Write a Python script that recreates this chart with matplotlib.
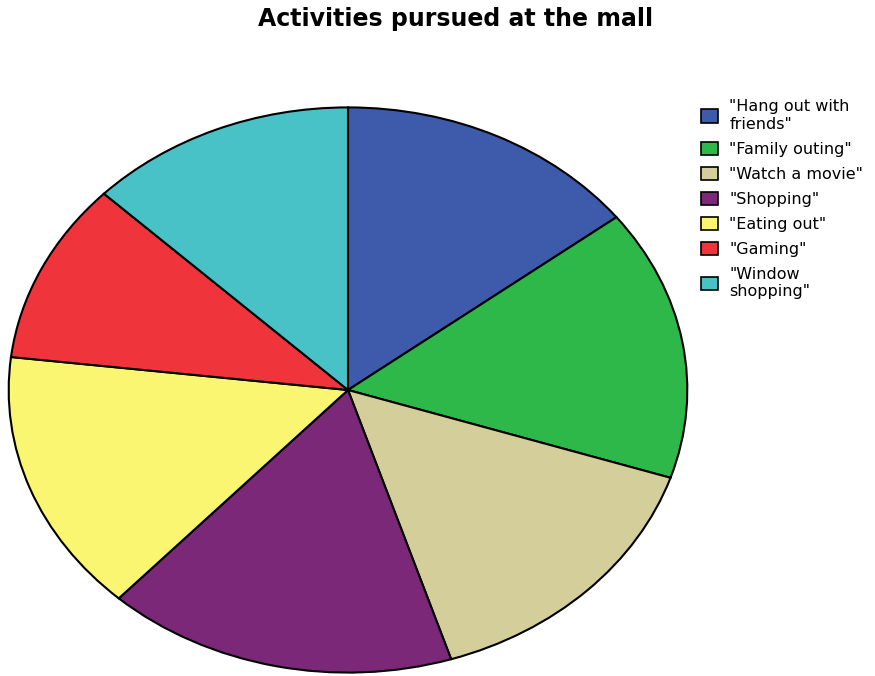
import matplotlib.pyplot as plt
from matplotlib.patches import Patch

plt.rcParams['font.family'] = ['DejaVu Sans']

activities = ['"Hang out with\nfriends"', '"Family outing"', '"Watch a movie"',
              '"Shopping"', '"Eating out"', '"Gaming"', '"Window\nshopping"']
responses = [52.3, 55.8, 54.2, 60.2, 54.2, 37.3, 46.0]
colors = ['#3e5aab', '#2fb84a', '#d4cf9a', '#7b2879', '#fbf672', '#f0343b', '#48c2c7']

fig = plt.figure(figsize=(8.75, 6.76), dpi=100)
ax = fig.add_axes([7 / 875, 2 / 676, 682 / 875, 568 / 676])

ax.pie(responses, colors=colors, startangle=90, counterclock=False,
       wedgeprops=dict(edgecolor='black', linewidth=1.5))
ax.set_aspect('auto')
ax.set_xlim(-1.005, 1.005)
ax.set_ylim(-1.005, 1.005)

handles = [Patch(facecolor=c, edgecolor='black', linewidth=1.2) for c in colors]
fig.legend(handles, activities, loc='upper left', bbox_to_anchor=(695 / 875, 1 - 93 / 676),
           frameon=False, fontsize=11.5, handlelength=1.05, handleheight=0.9,
           handletextpad=0.7, labelspacing=0.62, borderaxespad=0)

fig.text(456 / 875, 1 - 19 / 676, 'Activities pursued at the mall', ha='center', va='center',
         fontsize=17, fontweight='bold')

fig.savefig('out.png', dpi=100)
